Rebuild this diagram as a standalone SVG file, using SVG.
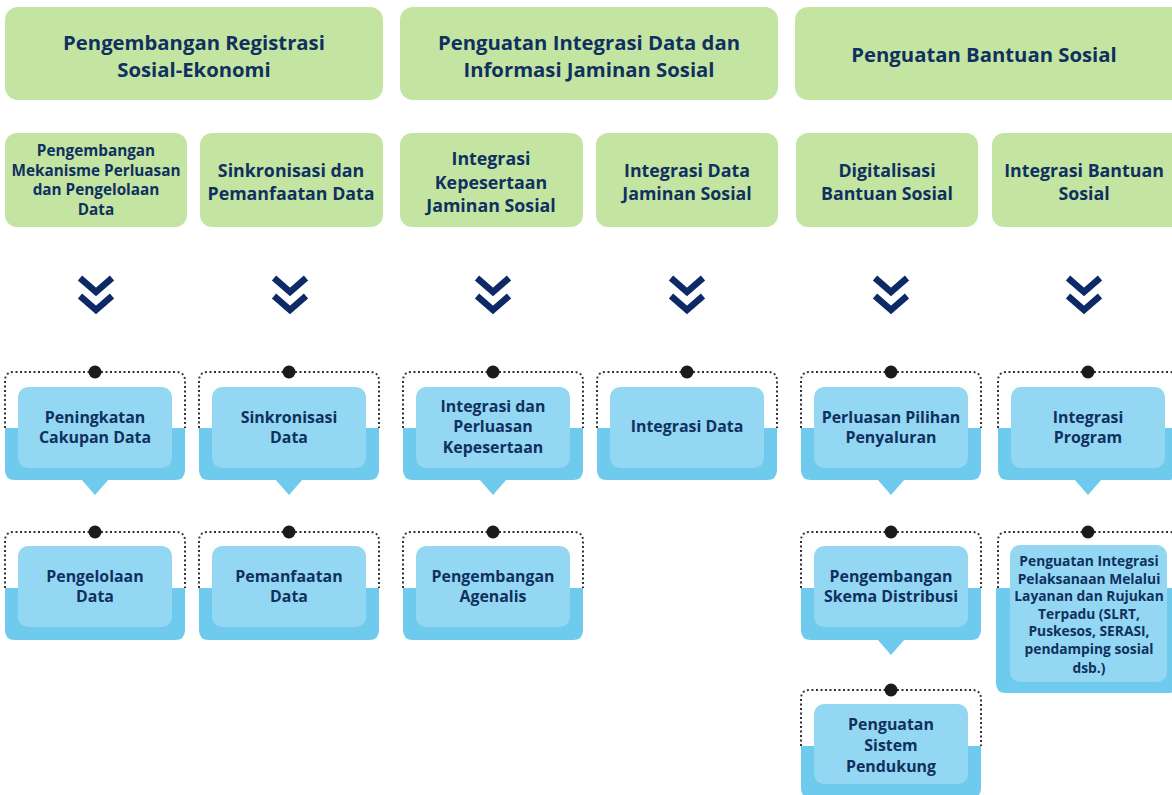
<svg xmlns="http://www.w3.org/2000/svg" width="1172" height="795" viewBox="0 0 1172 795">
<style>
.g{fill:#c3e5a1}
.t{font-family:"Open Sans","Liberation Sans",sans-serif;font-weight:700;fill:#10305f;text-anchor:middle}
.h{font-size:20.3px}
.s{font-size:17.8px}
.s2{font-size:15.3px}
.b{font-size:15.9px}
.b2{font-size:13.8px}
.band{fill:#6ecbed}
.inner{fill:#93d7f2}
.br{fill:none;stroke:#333;stroke-width:2;stroke-dasharray:2 2.5}
.dot{fill:#1b1b1b}
.chev{fill:none;stroke:#0e2a66;stroke-width:6.5}
.ptr{fill:#6ecbed}
</style>
<rect width="1172" height="795" fill="#fff"/>

<g id="h1"><rect class="g" x="5" y="7" width="378" height="93" rx="13"/>
<text class="t h" x="194" y="50">Pengembangan Registrasi</text><text class="t h" x="194" y="76.5">Sosial-Ekonomi</text></g>
<g id="h2"><rect class="g" x="400" y="7" width="378" height="93" rx="13"/>
<text class="t h" x="589" y="50">Penguatan Integrasi Data dan</text><text class="t h" x="589" y="76.5">Informasi Jaminan Sosial</text></g>
<g id="h3"><rect class="g" x="795" y="7" width="390" height="93" rx="13"/>
<text class="t h" x="984" y="62">Penguatan Bantuan Sosial</text></g>

<g id="sA"><rect class="g" x="5" y="133" width="182" height="94" rx="12"/>
<text class="t s2" x="96" y="156">Pengembangan</text><text class="t s2" x="96" y="175.7">Mekanisme Perluasan</text><text class="t s2" x="96" y="195.4">dan Pengelolaan</text><text class="t s2" x="96" y="215.1">Data</text></g>
<g id="sB"><rect class="g" x="200" y="133" width="183" height="94" rx="12"/>
<text class="t s" x="291" y="177">Sinkronisasi dan</text><text class="t s" x="291" y="199.5">Pemanfaatan Data</text></g>
<g id="sC"><rect class="g" x="400" y="133" width="183" height="94" rx="12"/>
<text class="t s" x="491" y="165">Integrasi</text><text class="t s" x="491" y="189">Kepesertaan</text><text class="t s" x="491" y="212">Jaminan Sosial</text></g>
<g id="sD"><rect class="g" x="596" y="133" width="182" height="94" rx="12"/>
<text class="t s" x="687" y="177">Integrasi Data</text><text class="t s" x="687" y="199.5">Jaminan Sosial</text></g>
<g id="sE"><rect class="g" x="796" y="133" width="182" height="94" rx="12"/>
<text class="t s" x="887" y="177">Digitalisasi</text><text class="t s" x="887" y="199.5">Bantuan Sosial</text></g>
<g id="sF"><rect class="g" x="992" y="133" width="195" height="94" rx="12"/>
<text class="t s" x="1084" y="177">Integrasi Bantuan</text><text class="t s" x="1084" y="199.5">Sosial</text></g>

<g id="connectors">
<g id="chevrons">
<path class="chev" d="M80,278 L96,292 L112,278 M80,296 L96,310 L112,296"/>
<path class="chev" d="M274,278 L290,292 L306,278 M274,296 L290,310 L306,296"/>
<path class="chev" d="M477,278 L493,292 L509,278 M477,296 L493,310 L509,296"/>
<path class="chev" d="M671,278 L687,292 L703,278 M671,296 L687,310 L703,296"/>
<path class="chev" d="M875,278 L891,292 L907,278 M875,296 L891,310 L907,296"/>
<path class="chev" d="M1068,278 L1084,292 L1100,278 M1068,296 L1084,310 L1100,296"/>
</g>
<g id="pointers">
<path class="ptr" d="M81,479 L95,495 L109,479 Z"/>
<path class="ptr" d="M275,479 L289,495 L303,479 Z"/>
<path class="ptr" d="M479,479 L493,495 L507,479 Z"/>
<path class="ptr" d="M877,479 L891,495 L905,479 Z"/>
<path class="ptr" d="M1074,479 L1088,495 L1102,479 Z"/>
<path class="ptr" d="M877,639 L891,655 L905,639 Z"/>
</g>
</g>

<g id="a1">
<path class="br" d="M5,428 V381 Q5,372 14,372 H176 Q185,372 185,381 V428"/>
<path class="band" d="M5,428 H185 V470 Q185,480 175,480 H15 Q5,480 5,470 Z"/>
<rect class="inner" x="18" y="387" width="154" height="81" rx="10"/>
<circle class="dot" cx="95" cy="372" r="6.5"/>
<text class="t b" x="95" y="423">Peningkatan</text><text class="t b" x="95" y="443">Cakupan Data</text></g>
<g id="a2">
<path class="br" d="M5,588 V541 Q5,532 14,532 H176 Q185,532 185,541 V588"/>
<path class="band" d="M5,588 H185 V630 Q185,640 175,640 H15 Q5,640 5,630 Z"/>
<rect class="inner" x="18" y="546" width="154" height="81" rx="10"/>
<circle class="dot" cx="95" cy="532" r="6.5"/>
<text class="t b" x="95" y="582">Pengelolaan</text><text class="t b" x="95" y="602">Data</text></g>

<g id="b1">
<path class="br" d="M199,428 V381 Q199,372 208,372 H370 Q379,372 379,381 V428"/>
<path class="band" d="M199,428 H379 V470 Q379,480 369,480 H209 Q199,480 199,470 Z"/>
<rect class="inner" x="212" y="387" width="154" height="81" rx="10"/>
<circle class="dot" cx="289" cy="372" r="6.5"/>
<text class="t b" x="289" y="423">Sinkronisasi</text><text class="t b" x="289" y="443">Data</text></g>
<g id="b2">
<path class="br" d="M199,588 V541 Q199,532 208,532 H370 Q379,532 379,541 V588"/>
<path class="band" d="M199,588 H379 V630 Q379,640 369,640 H209 Q199,640 199,630 Z"/>
<rect class="inner" x="212" y="546" width="154" height="81" rx="10"/>
<circle class="dot" cx="289" cy="532" r="6.5"/>
<text class="t b" x="289" y="582">Pemanfaatan</text><text class="t b" x="289" y="602">Data</text></g>

<g id="c1">
<path class="br" d="M403,428 V381 Q403,372 412,372 H574 Q583,372 583,381 V428"/>
<path class="band" d="M403,428 H583 V470 Q583,480 573,480 H413 Q403,480 403,470 Z"/>
<rect class="inner" x="416" y="387" width="154" height="81" rx="10"/>
<circle class="dot" cx="493" cy="372" r="6.5"/>
<text class="t b" x="493" y="412">Integrasi dan</text><text class="t b" x="493" y="432">Perluasan</text><text class="t b" x="493" y="453">Kepesertaan</text></g>
<g id="c2">
<path class="br" d="M403,588 V541 Q403,532 412,532 H574 Q583,532 583,541 V588"/>
<path class="band" d="M403,588 H583 V630 Q583,640 573,640 H413 Q403,640 403,630 Z"/>
<rect class="inner" x="416" y="546" width="154" height="81" rx="10"/>
<circle class="dot" cx="493" cy="532" r="6.5"/>
<text class="t b" x="493" y="582">Pengembangan</text><text class="t b" x="493" y="602">Agenalis</text></g>

<g id="d1">
<path class="br" d="M597,428 V381 Q597,372 606,372 H768 Q777,372 777,381 V428"/>
<path class="band" d="M597,428 H777 V470 Q777,480 767,480 H607 Q597,480 597,470 Z"/>
<rect class="inner" x="610" y="387" width="154" height="81" rx="10"/>
<circle class="dot" cx="687" cy="372" r="6.5"/>
<text class="t b" x="687" y="432">Integrasi Data</text></g>

<g id="e1">
<path class="br" d="M801,428 V381 Q801,372 810,372 H972 Q981,372 981,381 V428"/>
<path class="band" d="M801,428 H981 V470 Q981,480 971,480 H811 Q801,480 801,470 Z"/>
<rect class="inner" x="814" y="387" width="154" height="81" rx="10"/>
<circle class="dot" cx="891" cy="372" r="6.5"/>
<text class="t b" x="891" y="423">Perluasan Pilihan</text><text class="t b" x="891" y="443">Penyaluran</text></g>
<g id="e2">
<path class="br" d="M801,588 V541 Q801,532 810,532 H972 Q981,532 981,541 V588"/>
<path class="band" d="M801,588 H981 V630 Q981,640 971,640 H811 Q801,640 801,630 Z"/>
<rect class="inner" x="814" y="546" width="154" height="81" rx="10"/>
<circle class="dot" cx="891" cy="532" r="6.5"/>
<text class="t b" x="891" y="582">Pengembangan</text><text class="t b" x="891" y="602">Skema Distribusi</text></g>
<g id="e3">
<path class="br" d="M801,746 V699 Q801,690 810,690 H972 Q981,690 981,699 V746"/>
<path class="band" d="M801,746 H981 V788 Q981,798 971,798 H811 Q801,798 801,788 Z"/>
<rect class="inner" x="814" y="704" width="154" height="80" rx="10"/>
<circle class="dot" cx="891" cy="690" r="6.5"/>
<text class="t b" x="891" y="730">Penguatan</text><text class="t b" x="891" y="751">Sistem</text><text class="t b" x="891" y="772">Pendukung</text></g>

<g id="f1">
<path class="br" d="M998,428 V381 Q998,372 1007,372 H1169 Q1178,372 1178,381 V428"/>
<path class="band" d="M998,428 H1178 V470 Q1178,480 1168,480 H1008 Q998,480 998,470 Z"/>
<rect class="inner" x="1011" y="387" width="154" height="81" rx="10"/>
<circle class="dot" cx="1088" cy="372" r="6.5"/>
<text class="t b" x="1088" y="423">Integrasi</text><text class="t b" x="1088" y="443">Program</text></g>
<g id="f2">
<path class="br" d="M998,588 V541 Q998,532 1007,532 H1169 Q1178,532 1178,541 V588"/>
<path class="band" d="M996,588 H1178 V683 Q1178,693 1168,693 H1006 Q996,693 996,683 Z"/>
<rect class="inner" x="1010" y="545" width="157" height="137" rx="10"/>
<circle class="dot" cx="1088" cy="532" r="6.5"/>
<text class="t b2" x="1089" y="566">Penguatan Integrasi</text><text class="t b2" x="1089" y="583.5">Pelaksanaan Melalui</text><text class="t b2" x="1089" y="601">Layanan dan Rujukan</text><text class="t b2" x="1089" y="618.5">Terpadu (SLRT,</text><text class="t b2" x="1089" y="636">Puskesos, SERASI,</text><text class="t b2" x="1089" y="653.5">pendamping sosial</text><text class="t b2" x="1089" y="673">dsb.)</text></g>
</svg>
